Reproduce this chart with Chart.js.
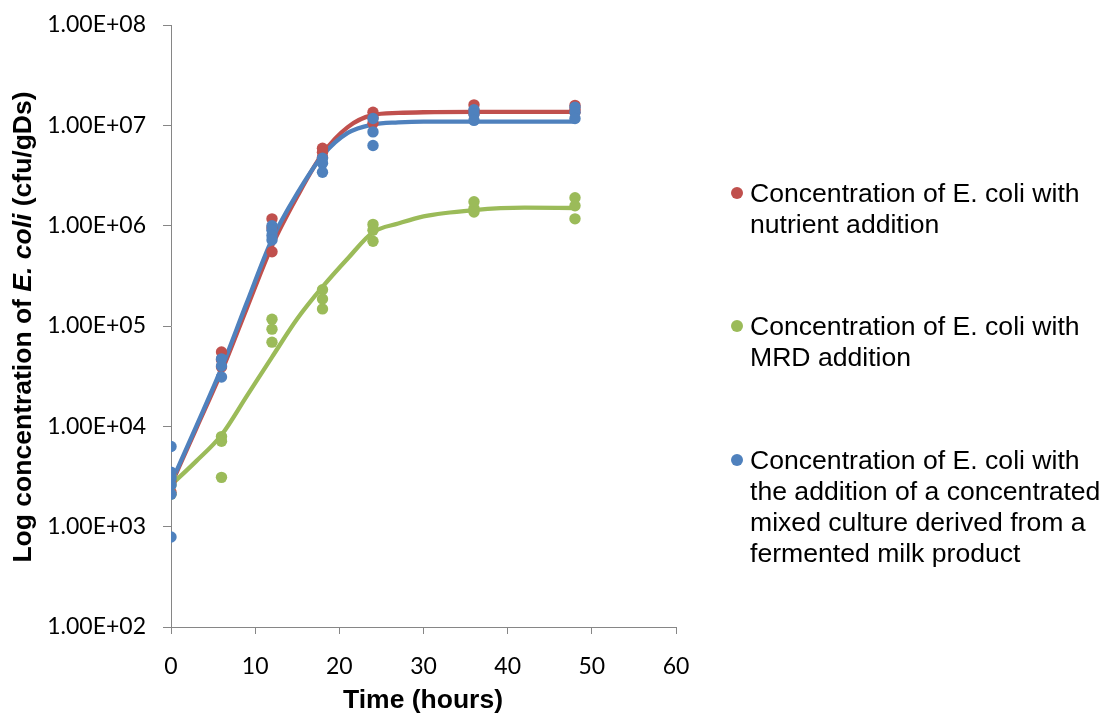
<!DOCTYPE html>
<html>
<head>
  <title>E. coli growth</title>
  <script src="https://cdn.jsdelivr.net/npm/chart.js"></script>
  <style>
    body {
      margin: 0;
      background: #ffffff;
    }
    .wrap {
      position: relative;
      width: 1108px;
      height: 715px;
      font-family: 'Liberation Sans', Arial, sans-serif;
      color: #000;
    }
    canvas {
      position: absolute;
      left: 0;
      top: 0;
    }
    .ytitle {
      position: absolute;
      left: -228px;
      top: 312px;
      width: 500px;
      height: 30px;
      line-height: 30px;
      text-align: center;
      font-size: 26.5px;
      font-weight: bold;
      white-space: nowrap;
      transform: rotate(-90deg);
    }
    .xtitle {
      position: absolute;
      left: 273px;
      top: 684px;
      width: 300px;
      line-height: 30px;
      text-align: center;
      font-size: 26.5px;
      font-weight: bold;
    }
    .legend-item {
      position: absolute;
      left: 750px;
      font-size: 26.6px;
      line-height: 30.7px;
      white-space: nowrap;
    }
    .legend-item .dot {
      position: absolute;
      left: -19px;
      top: 9px;
      width: 12px;
      height: 12px;
      border-radius: 50%;
    }
  </style>
</head>
<body>
  <div class="wrap">
    <canvas id="myChart" width="1108" height="715"></canvas>
    <div class="ytitle">Log concentration of <i>E. coli</i> (cfu/gDs)</div>
    <div class="xtitle">Time (hours)</div>
    <div id="legend"></div>
  </div>

  <script>
    // sampling times (hours) and replicate counts (cfu/gDs)
    const sampleHours = [0, 6, 12, 18, 24, 36, 48];

    const nutrientCounts = [
      [3.4e3, 2.8e3, 2.2e3],
      [5.5e4, 4.6e4, 3.9e4],
      [1.17e6, 9.5e5, 5.5e5],
      [5.9e6, 5.4e6, 4.8e6],
      [1.35e7, 1.2e7, 1.05e7],
      [1.6e7, 1.4e7, 1.3e7],
      [1.58e7, 1.45e7, 1.35e7]
    ];
    const mrdCounts = [
      [3.2e3, 2.6e3, 2.1e3],
      [7.9e3, 7.1e3, 3.1e3],
      [1.17e5, 9.3e4, 6.9e4],
      [2.3e5, 1.86e5, 1.48e5],
      [1.03e6, 9.0e5, 7.0e5],
      [1.73e6, 1.48e6, 1.37e6],
      [1.9e6, 1.58e6, 1.17e6]
    ];
    const cultureCounts = [
      [6.3e3, 3.5e3, 3.05e3, 2.6e3, 2.1e3, 7.9e2],
      [4.7e4, 4.0e4, 3.1e4],
      [1.0e6, 9.0e5, 8.0e5, 7.2e5],
      [4.7e6, 4.2e6, 3.4e6],
      [1.17e7, 8.6e6, 6.3e6],
      [1.43e7, 1.3e7, 1.12e7],
      [1.52e7, 1.35e7, 1.17e7]
    ];

    // fitted curves, read at these hours
    const curveHours = [0, 3, 6, 9, 12, 15, 18, 21, 24, 27, 30, 36, 42, 48];
    const nutrientCurve = [2.6e3, 9.5e3, 3.5e4, 1.5e5, 6.3e5, 1.95e6, 5.2e6, 9.6e6, 1.27e7, 1.33e7, 1.35e7, 1.36e7, 1.36e7, 1.36e7];
    const mrdCurve = [2.6e3, 4.5e3, 8.2e3, 2.0e4, 4.9e4, 1.18e5, 2.45e5, 4.7e5, 8.6e5, 1.05e6, 1.24e6, 1.43e6, 1.51e6, 1.5e6];
    const cultureCurve = [2.7e3, 1.0e4, 3.8e4, 1.7e5, 7.3e5, 2.1e6, 5.0e6, 8.4e6, 1.02e7, 1.07e7, 1.09e7, 1.09e7, 1.09e7, 1.09e7];

    const seriesNames = [
      ['Concentration of E. coli with', 'nutrient addition'],
      ['Concentration of E. coli with', 'MRD addition'],
      ['Concentration of E. coli with', 'the addition of a concentrated', 'mixed culture derived from a', 'fermented milk product']
    ];
    const seriesColors = ['#C0504D', '#9BBB59', '#4F81BD'];

    const xTicks = [0, 10, 20, 30, 40, 50, 60];
    const yTickValues = [1e2, 1e3, 1e4, 1e5, 1e6, 1e7, 1e8];
    const yTickLabels = ['1.00E+02', '1.00E+03', '1.00E+04', '1.00E+05', '1.00E+06', '1.00E+07', '1.00E+08'];

    function toPoints(counts) {
      const pts = [];
      counts.forEach((reps, i) => reps.forEach(v => pts.push({ x: sampleHours[i], y: v })));
      return pts;
    }
    function toCurve(values) {
      return values.map((v, i) => ({ x: curveHours[i], y: v }));
    }

    const allCounts = [nutrientCounts, mrdCounts, cultureCounts];
    const allCurves = [nutrientCurve, mrdCurve, cultureCurve];

    const datasets = [];
    allCurves.forEach((c, i) => {
      datasets.push({
        type: 'line', data: toCurve(c), borderColor: seriesColors[i], borderWidth: 4.3,
        pointRadius: 0, cubicInterpolationMode: 'monotone', fill: false, order: 10 - i
      });
    });
    allCounts.forEach((c, i) => {
      datasets.push({
        type: 'scatter', data: toPoints(c), backgroundColor: seriesColors[i], borderWidth: 0,
        pointRadius: 5.7, pointHoverRadius: 5.7, order: 5 - i
      });
    });

    // legend as html so the labels can wrap like the original
    const legendTops = [178.1, 311.4, 445.4];
    document.getElementById('legend').innerHTML = seriesNames.map((lines, i) =>
      `<div class="legend-item" style="top:${legendTops[i]}px"><span class="dot" style="background:${seriesColors[i]}"></span>${lines.join('<br>')}</div>`
    ).join('');

    const axisGrey = '#868686';

    new Chart(document.getElementById('myChart').getContext('2d'), {
      data: { datasets },
      options: {
        responsive: false,
        animation: false,
        layout: { padding: { left: 0, top: 25, right: 432, bottom: 0 } },
        plugins: { legend: { display: false }, tooltip: { enabled: false } },
        scales: {
          x: {
            type: 'linear', min: 0, max: 60,
            afterFit: s => { s.height = 88; },
            afterBuildTicks: s => { s.ticks = xTicks.map(v => ({ value: v })); },
            grid: { drawOnChartArea: false, color: axisGrey, tickLength: 7 },
            border: { color: axisGrey },
            ticks: { color: '#000', padding: 19, font: { family: 'Lato', size: 23 } }
          },
          y: {
            type: 'logarithmic', min: 1e2, max: 1e8,
            afterFit: s => { s.width = 171; s.paddingTop = 0; s.paddingBottom = 0; },
            afterBuildTicks: s => { s.ticks = yTickValues.map(v => ({ value: v })); },
            grid: { drawOnChartArea: false, color: axisGrey, tickLength: 8 },
            border: { color: axisGrey },
            ticks: {
              color: '#000', padding: 17, font: { family: 'Lato', size: 23 },
              callback: v => yTickLabels[yTickValues.indexOf(v)]
            }
          }
        }
      }
    });
  </script>
</body>
</html>
